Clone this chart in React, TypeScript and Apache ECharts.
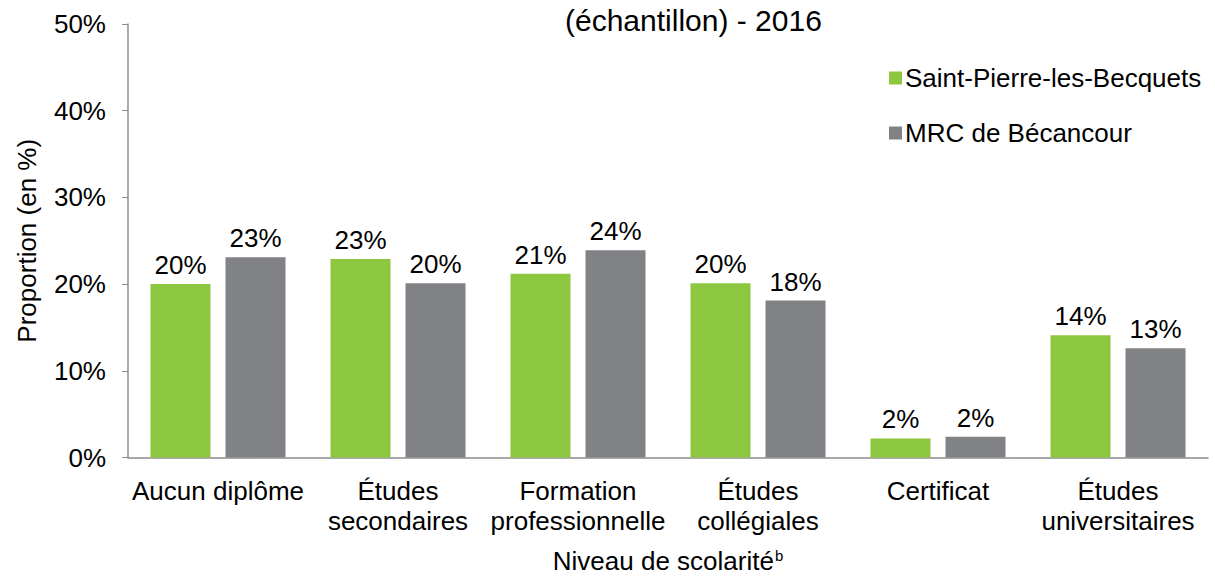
import React, { useEffect, useRef } from "react";
import * as echarts from "echarts";

const categories = [
  "Aucun diplôme",
  "Études\nsecondaires",
  "Formation\nprofessionnelle",
  "Études\ncollégiales",
  "Certificat",
  "Études\nuniversitaires",
];
const saintPierre = [20.0, 22.9, 21.2, 20.1, 2.2, 14.1];
const mrcBecancour = [23.1, 20.1, 23.9, 18.1, 2.4, 12.6];
const seriesNames = ["Saint-Pierre-les-Becquets", "MRC de Bécancour"];

const FONT = "'Liberation Sans', Arial, sans-serif";
const FS = 26;

export default function App() {
  const ref = useRef<HTMLDivElement>(null);
  useEffect(() => {
    if (!ref.current) return;
    const chart = echarts.init(ref.current, undefined, { renderer: "svg" });
    const label = {
      show: true,
      position: "top",
      distance: 6,
      color: "#000",
      fontSize: FS,
      fontFamily: FONT,
      formatter: (p: any) => Math.round(p.value) + "%",
    };
    chart.setOption({
      animation: false,
      backgroundColor: "#fff",
      textStyle: { fontFamily: FONT },
      title: {
        text: "(échantillon) - 2016",
        left: 565,
        top: 5,
        textStyle: { fontSize: 30, fontFamily: FONT, color: "#000", fontWeight: "normal" },
        padding: 0,
      },
      legend: {
        orient: "vertical",
        left: 884,
        top: 60,
        itemWidth: 13,
        itemHeight: 13,
        itemGap: 29,
        icon: "rect",
        textStyle: { fontSize: FS, fontFamily: FONT, color: "#000", padding: [0, 0, 0, -2] },
        data: seriesNames,
      },
      grid: { left: 128, right: 7, top: 24, bottom: 116, containLabel: false },
      xAxis: {
        type: "category",
        data: categories,
        axisLine: { lineStyle: { color: "#8c8c8c", width: 1.5 } },
        axisTick: { show: false },
        axisLabel: {
          fontSize: FS,
          fontFamily: FONT,
          color: "#000",
          lineHeight: 30,
          margin: 18,
          interval: 0,
        },
        name: "{a|Niveau de scolarité}{b|b}",
        nameLocation: "middle",
        nameGap: 90,
        nameTextStyle: {
          rich: {
            a: { fontSize: FS, fontFamily: FONT, color: "#000" },
            b: { fontSize: 15, fontFamily: FONT, color: "#000", verticalAlign: "top", padding: [0, 0, 12, 1] },
          },
        },
      },
      yAxis: {
        type: "value",
        min: 0,
        max: 50,
        interval: 10,
        axisLine: { show: true, lineStyle: { color: "#8c8c8c", width: 1.5 } },
        axisTick: { show: true, length: 6, lineStyle: { color: "#8c8c8c" } },
        splitLine: { show: false },
        axisLabel: {
          formatter: "{value}%",
          fontSize: FS,
          fontFamily: FONT,
          color: "#000",
          margin: 22,
        },
        name: "Proportion (en %)",
        nameLocation: "middle",
        nameGap: 88,
        nameRotate: 90,
        nameTextStyle: { fontSize: FS, fontFamily: FONT, color: "#000" },
      },
      series: [
        {
          name: seriesNames[0],
          type: "bar",
          data: saintPierre,
          barWidth: 60,
          barGap: "25%",
          itemStyle: { color: "#8DC63F" },
          label,
        },
        {
          name: seriesNames[1],
          type: "bar",
          data: mrcBecancour,
          barWidth: 60,
          barGap: "25%",
          itemStyle: { color: "#808285" },
          label,
        },
      ],
    });
    return () => chart.dispose();
  }, []);
  return <div ref={ref} style={{ width: 1215, height: 579, position: "absolute", left: 0, top: 0 }} />;
}
